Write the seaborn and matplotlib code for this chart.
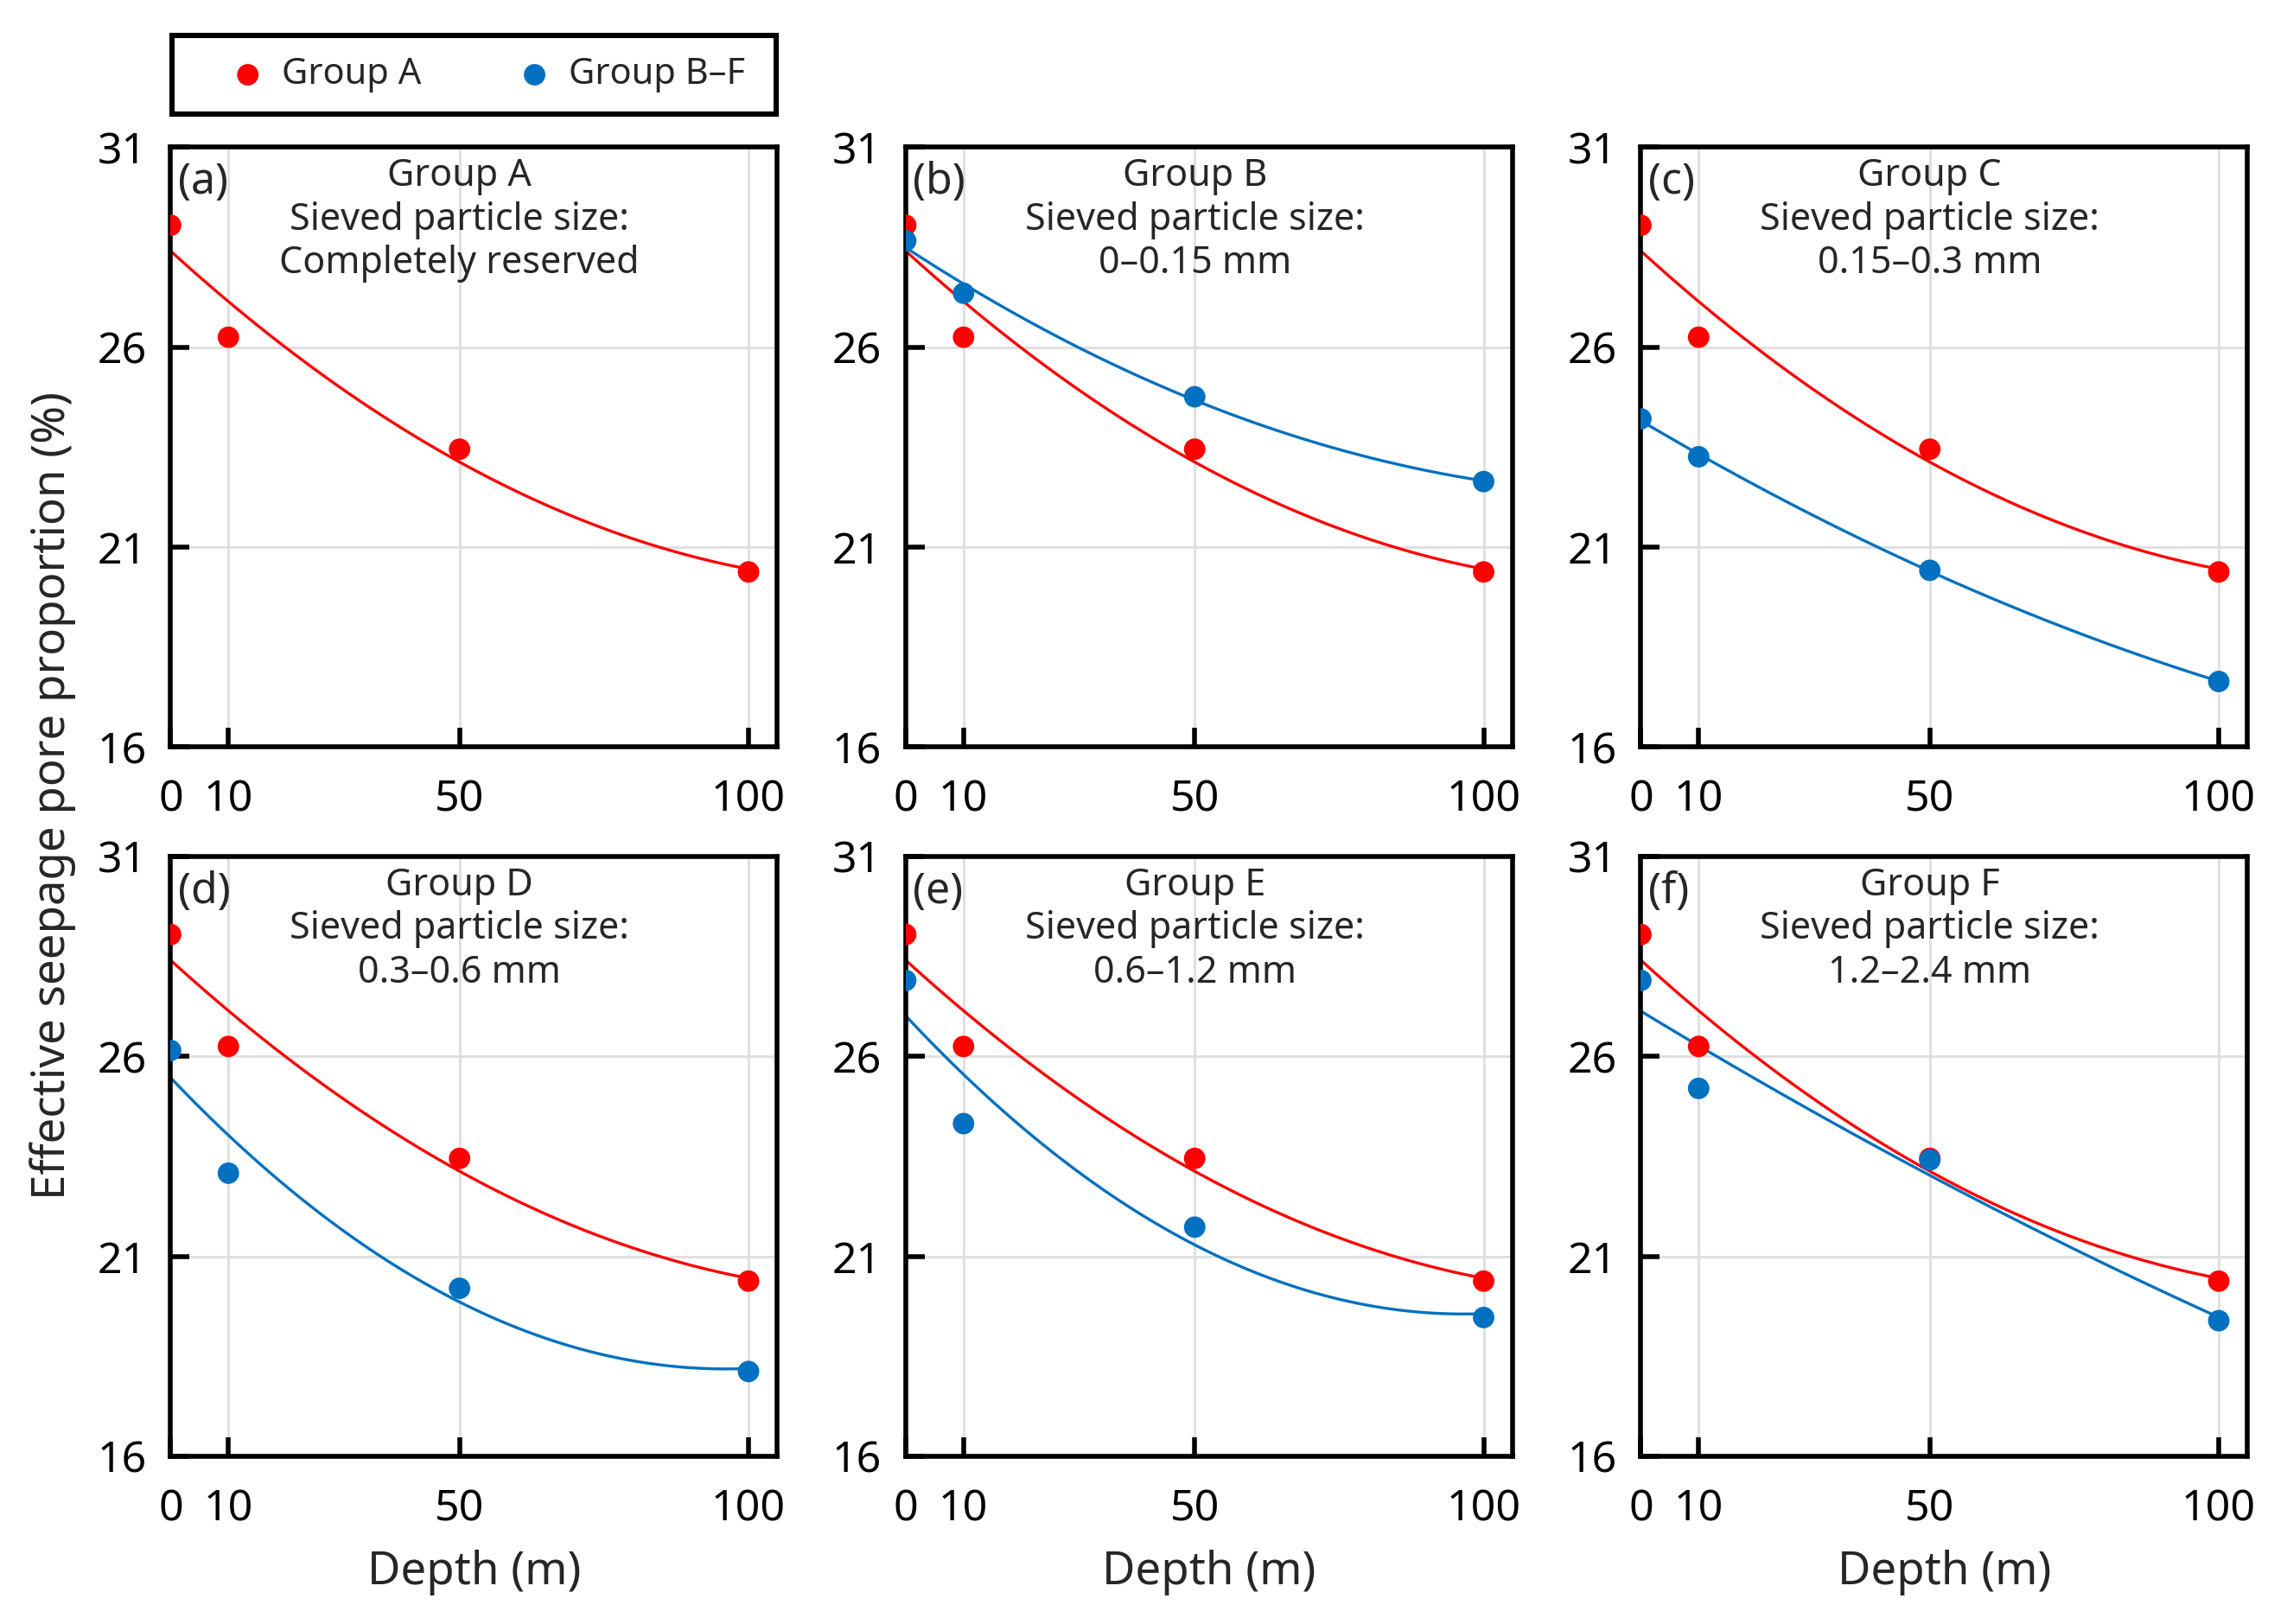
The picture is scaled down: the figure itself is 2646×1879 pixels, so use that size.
import matplotlib
matplotlib.use('Agg')
import matplotlib.pyplot as plt
from matplotlib.patches import Rectangle
import numpy as np
import pandas as pd
import seaborn as sns

# depth values and measured pore proportions (%)
depth = [0, 10, 50, 100]
group_a = [29.05, 26.25, 23.45, 20.38]
group_b = [28.66, 27.35, 24.76, 22.64]
group_c = [24.21, 23.26, 20.42, 17.64]
group_d = [26.15, 23.08, 20.20, 18.12]
group_e = [27.90, 24.32, 21.73, 19.47]
group_f = [27.90, 25.20, 23.41, 19.39]

panel_tags = ['(a)', '(b)', '(c)', '(d)', '(e)', '(f)']
group_names = ['Group A', 'Group B', 'Group C', 'Group D', 'Group E', 'Group F']
size_labels = ['Completely reserved', '0–0.15 mm', '0.15–0.3 mm',
               '0.3–0.6 mm', '0.6–1.2 mm', '1.2–2.4 mm']
y_ticks = [16, 21, 26, 31]
x_ticks = [0, 10, 50, 100]

RED = '#FF0000'
BLUE = '#0070C0'

sns.set_theme(style='ticks')
plt.rcParams['font.family'] = ['Noto Sans', 'DejaVu Sans']
plt.rcParams['axes.linewidth'] = 2.0

fig, axes = plt.subplots(2, 3, figsize=(13.23, 9.395), dpi=200)
fig.subplots_adjust(left=0.0746, right=0.9828, bottom=0.1033, top=0.9093,
                    wspace=0.2115, hspace=0.1825)

others = [None, group_b, group_c, group_d, group_e, group_f]
for i, ax in enumerate(axes.flat):
    df_a = pd.DataFrame({'depth': depth, 'value': group_a})
    sns.regplot(data=df_a, x='depth', y='value', order=2, ci=None, scatter=False,
                ax=ax, line_kws={'color': RED, 'lw': 1.2})
    sns.scatterplot(data=df_a, x='depth', y='value', ax=ax, color=RED, s=80,
                    edgecolor='none', label='Group A', zorder=3, legend=False)
    if others[i] is not None:
        df_o = pd.DataFrame({'depth': depth, 'value': others[i]})
        sns.regplot(data=df_o, x='depth', y='value', order=2, ci=None, scatter=False,
                    ax=ax, line_kws={'color': BLUE, 'lw': 1.2})
        sns.scatterplot(data=df_o, x='depth', y='value', ax=ax, color=BLUE, s=80,
                        edgecolor='none', label='Group B–F', zorder=4, legend=False)

    ax.set_xlim(0, 105)
    ax.set_ylim(16, 31)
    ax.set_xticks(x_ticks)
    ax.set_yticks(y_ticks)
    ax.grid(True, color='#dedede', lw=1.0)
    ax.set_axisbelow(True)
    for sp in ax.spines.values():
        sp.set_color('black')
        sp.set_linewidth(2.0)
    ax.tick_params(axis='both', direction='in', length=8, width=2, colors='black',
                   labelsize=18)
    ax.tick_params(axis='y', pad=10)
    ax.tick_params(axis='x', pad=13)
    ax.set_ylabel('')
    if i >= 3:
        ax.set_xlabel('Depth (m)', fontsize=19, labelpad=8)
    else:
        ax.set_xlabel('')

    ax.text(0.012, 0.977, panel_tags[i], transform=ax.transAxes, ha='left', va='top',
            fontsize=18)
    ax.text(50, 30.75, f'{group_names[i]}\nSieved particle size:\n{size_labels[i]}',
            ha='center', va='top', fontsize=15.5, linespacing=1.2)

fig.text(0.023, 0.51, 'Effective seepage pore proportion (%)', rotation=90,
         ha='center', va='center', fontsize=19)

# legend box above panel (a)
fig.patches.append(Rectangle((0.0753, 0.9299), 0.2640, 0.0485, transform=fig.transFigure,
                             fill=False, edgecolor='black', lw=2.2, zorder=5))
h1, l1 = axes[0, 1].get_legend_handles_labels()
leg = fig.legend(h1, l1, loc='center left', bbox_to_anchor=(0.1005, 0.954),
                 ncol=2, frameon=False, fontsize=15, borderpad=0, borderaxespad=0,
                 handlelength=1.0, handletextpad=0.45, columnspacing=2.64)

plt.savefig('out.png', dpi=200)
plt.close()
